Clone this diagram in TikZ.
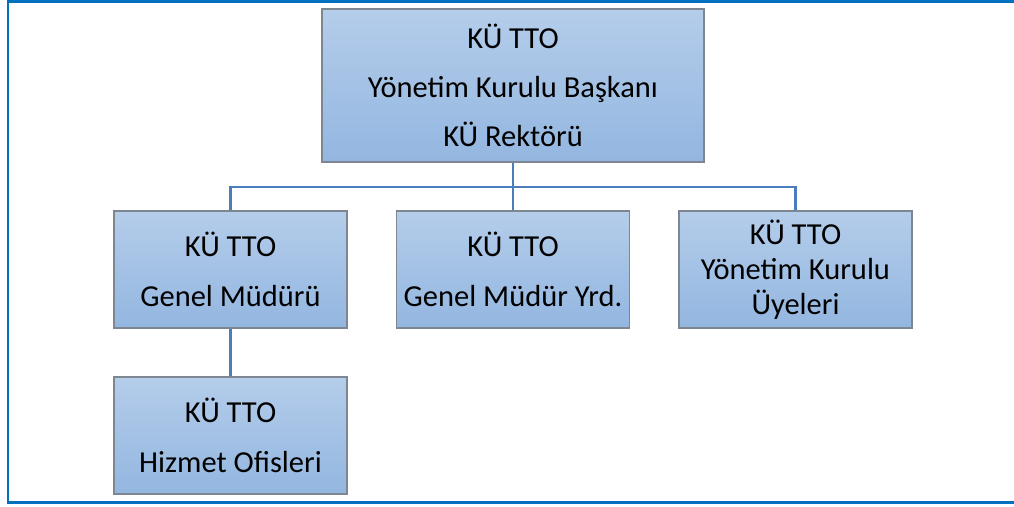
\documentclass[tikz,border=0pt]{standalone}
\usepackage{fontspec}
\setmainfont{Carlito}
\usetikzlibrary{calc}

\definecolor{framecol}{HTML}{0070C0}
\definecolor{linkcol}{HTML}{4A7EBB}
\definecolor{boxedge}{HTML}{7D8691}
\definecolor{boxtop}{HTML}{B4CDEA}
\definecolor{boxbottom}{HTML}{93B6E0}

\tikzset{
    orgbox/.style={
        draw=boxedge, line width=1.5pt,
        top color=boxtop, bottom color=boxbottom,
        minimum height=117pt, minimum width=233pt,
        inner sep=0pt, align=center,
        font={\fontsize{30.5}{35}\selectfont}
    },
    link/.style={draw=linkcol, line width=2.2pt}
}

\begin{document}
\begin{tikzpicture}[x=1pt, y=-1pt]
            \useasboundingbox (0,0) rectangle (1014,506);
            \draw[framecol, line width=2.5pt]
                (1014,1.5) -- (8,1.5) -- (8,502.5) -- (1014,502.5)
            ;
            % boxes
            \node[orgbox, minimum width=382pt, minimum height=153pt] (baskan) at (513,85.5)
                {KÜ TTO\\[14pt] Yönetim Kurulu Başkanı\\[14pt] KÜ Rektörü};
            \node[orgbox] (genelmd) at (230.5,269.5) {KÜ TTO\\[15pt] Genel Müdürü};
            \node[orgbox] (yardimci) at (513,269.5) {KÜ TTO\\[15pt] Genel Müdür Yrd.};
            \node[orgbox] (uyeler) at (795.5,269.5) {KÜ TTO\\ Yönetim Kurulu\\ Üyeleri};
            \node[orgbox] (hizmet) at (230.5,435.5) {KÜ TTO\\[15pt] Hizmet Ofisleri};
            % links
            \coordinate (bus) at (513,187);
            \draw[link] (baskan.south) -- (yardimci.north);
            \draw[link] (genelmd.north) |- (bus) -| (uyeler.north);
            \draw[link] (genelmd.south) -- (hizmet.north);
        \end{tikzpicture}
\end{document}
